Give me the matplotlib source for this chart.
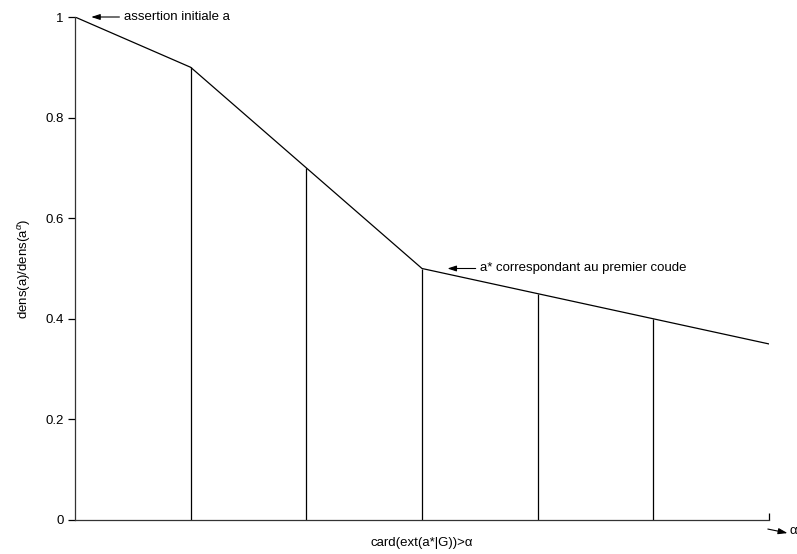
import matplotlib
matplotlib.use("Agg")
import matplotlib.pyplot as plt

plt.rcParams['font.family'] = ['Liberation Sans', 'DejaVu Sans']
plt.rcParams['mathtext.fontset'] = 'custom'
plt.rcParams['mathtext.rm'] = 'Liberation Sans'
plt.rcParams['mathtext.it'] = 'Liberation Sans:italic'

x_vals = [0, 1, 2, 3, 4, 5, 6]
y_vals = [1.0, 0.9, 0.7, 0.5, 0.45, 0.4, 0.35]
y_ticks = [0, 0.2, 0.4, 0.6, 0.8, 1.0]
y_tick_labels = ["0", "0.2", "0.4", "0.6", "0.8", "1"]

fig = plt.figure(figsize=(7.97, 5.54), dpi=100)
ax = fig.add_axes([75/797, 1-520/554, (769-75)/797, (520-17)/554])

ax.plot(x_vals, y_vals, color='black', lw=0.9)
ax.vlines(x_vals[1:-1], 0, y_vals[1:-1], color='black', lw=0.9)

ax.set_xlim(0, 6)
ax.set_ylim(0, 1)
for s in ['top', 'right']:
    ax.spines[s].set_visible(False)
for s in ['left', 'bottom']:
    ax.spines[s].set_linewidth(0.9)
    ax.spines[s].set_color('#333333')

ax.set_yticks(y_ticks)
ax.set_yticklabels(y_tick_labels, fontsize=9.5)
ax.tick_params(axis='y', direction='out', length=5, width=0.9, pad=3)
ax.set_xticks([6])
ax.set_xticklabels([])
ax.tick_params(axis='x', direction='in', length=5, width=0.9)

ax.set_ylabel(r'dens(a)/dens(a$^{\alpha}$)', fontsize=9.5, labelpad=9)
ax.set_xlabel('card(ext(a*|G))>α', fontsize=9.5, labelpad=9)

ax.annotate('assertion initiale a', xy=(0.14, 1.0), xytext=(0.42, 1.0),
            fontsize=9.5, va='center', ha='left', annotation_clip=False,
            arrowprops=dict(arrowstyle='-|>,head_length=0.55,head_width=0.18',
                            color='black', lw=0.8, shrinkA=1, shrinkB=0))
ax.annotate('a* correspondant au premier coude', xy=(3.22, 0.5), xytext=(3.5, 0.5),
            fontsize=9.5, va='center', ha='left', annotation_clip=False,
            arrowprops=dict(arrowstyle='-|>,head_length=0.55,head_width=0.18',
                            color='black', lw=0.8, shrinkA=1, shrinkB=0))
ax.annotate('', xy=(6.16, -0.026), xytext=(5.99, -0.018), annotation_clip=False,
            arrowprops=dict(arrowstyle='-|>,head_length=0.55,head_width=0.18',
                            color='black', lw=0.8, shrinkA=0, shrinkB=0))
ax.text(6.175, -0.022, 'α', fontsize=9.5, va='center', ha='left', clip_on=False)

fig.savefig('out.png', dpi=100)
